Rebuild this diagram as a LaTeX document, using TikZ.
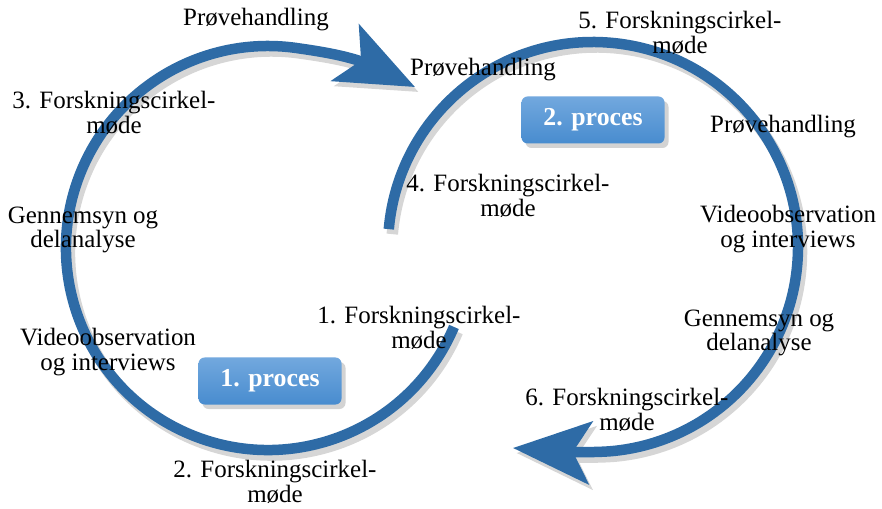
\documentclass[tikz,border=0pt]{standalone}
\usepackage{fontspec}
\setmainfont{Liberation Serif}
\usepackage{tikz}
\usetikzlibrary{arrows.meta,bending,shadows}
\definecolor{loopblue}{RGB}{46,107,166}
\definecolor{boxtop}{RGB}{114,168,222}
\definecolor{boxbottom}{RGB}{72,140,207}
\newcommand{\lblfont}{\fontsize{14.2}{14}\selectfont}

\begin{document}
\begin{tikzpicture}[
    loopband/.style={loopblue,line width=2.1mm,-{Stealth[length=15.5mm,width=12.5mm,inset=3.5mm,flex]}},
    loopshade/.style={black!16,line width=2.3mm,shift={(0.07,-0.1)},-{Stealth[length=15.5mm,width=12.5mm,inset=3.5mm,flex]}},
    stage/.style={align=center,font=\lblfont,inner sep=1pt},
    procbox/.style={rounded corners=1.2mm,top color=boxtop,bottom color=boxbottom,draw=none,
      minimum width=2.86cm,minimum height=0.94cm,text=white,font=\fontsize{14.7}{15}\selectfont\bfseries,
      drop shadow={opacity=0.35,shadow xshift=0.8mm,shadow yshift=-0.9mm}}]
  \useasboundingbox (0,0) rectangle (17.64,10.16);
  % ===== LOOP 1 (left) =====
  \draw[loopshade] (5.36,5.20) ++(-23:4.04) arc[start angle=-23,end angle=-278,radius=4.04]
    .. controls (6.91,9.06) and (7.44,8.94) .. (8.30,8.42);
  \draw[loopband] (5.36,5.20) ++(-23:4.04) arc[start angle=-23,end angle=-278,radius=4.04]
    .. controls (6.91,9.06) and (7.44,8.94) .. (8.30,8.42);
  % ===== LOOP 2 (right) =====
  \draw[loopshade] (11.86,5.22) ++(175:4.10) arc[start angle=175,end angle=-85,radius=4.10]
    .. controls (11.62,1.09) and (10.86,1.14) .. (10.26,1.20);
  \draw[loopband] (11.86,5.22) ++(175:4.10) arc[start angle=175,end angle=-85,radius=4.10]
    .. controls (11.62,1.09) and (10.86,1.14) .. (10.26,1.20);
  % ===== process boxes =====
  \node[procbox] (proc1) at (5.40,2.54) {1. proces};
  \node[procbox] (proc2) at (11.86,7.76) {2. proces};
  % ===== stages of process 1 =====
  \node[stage] (forsk1) at (8.38,3.60) {1. Forskningscirkel-\\møde};
  \node[stage] (forsk2) at (5.50,0.52) {2. Forskningscirkel-\\møde};
  \node[stage] (videoA) at (2.16,3.12) {Videoobservation\\og interviews};
  \node[stage] (gennemA) at (1.66,5.56) {Gennemsyn og\\delanalyse};
  \node[stage] (forsk3) at (2.28,7.90) {3. Forskningscirkel-\\møde};
  \node[stage] (proveA) at (5.12,9.76) {Prøvehandling};
  % ===== stages of process 2 =====
  \node[stage] (proveB) at (9.66,8.76) {Prøvehandling};
  \node[stage] (forsk4) at (10.16,6.24) {4. Forskningscirkel-\\møde};
  \node[stage] (forsk5) at (13.60,9.50) {5. Forskningscirkel-\\møde};
  \node[stage] (proveC) at (15.66,7.62) {Prøvehandling};
  \node[stage] (videoB) at (15.76,5.58) {Videoobservation\\og interviews};
  \node[stage] (gennemB) at (15.18,3.50) {Gennemsyn og\\delanalyse};
  \node[stage] (forsk6) at (12.54,1.96) {6. Forskningscirkel-\\møde};
\end{tikzpicture}
\end{document}
